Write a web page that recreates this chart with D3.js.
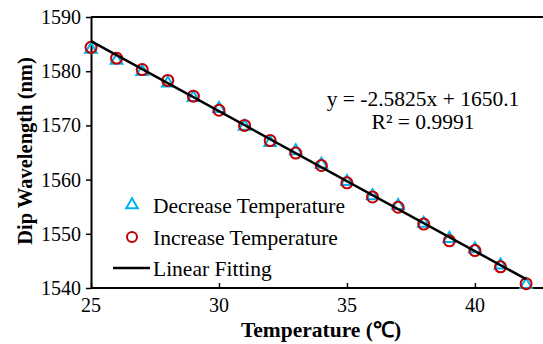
<!DOCTYPE html>
<html>
<head>
<meta charset="utf-8">
<script src="https://cdn.jsdelivr.net/npm/d3@7"></script>
<style>
body { margin: 0; background: #fff; }
svg text { font-family: "Liberation Serif", "Times New Roman", serif; fill: #000; }
</style>
</head>
<body>
<svg width="543" height="344"></svg>
<script>
var temps = [25, 26, 27, 28, 29, 30, 31, 32, 33, 34, 35, 36, 37, 38, 39, 40, 41, 42];
var decreaseVals = [1584.0, 1582.0, 1579.9, 1577.8, 1575.1, 1573.1, 1569.8, 1566.8, 1565.3, 1562.8, 1559.6, 1557.0, 1555.2, 1551.9, 1549.1, 1547.2, 1544.2, 1540.6];
var increaseVals = [1584.4, 1582.4, 1580.3, 1578.3, 1575.4, 1572.8, 1570.0, 1567.2, 1564.9, 1562.6, 1559.4, 1556.8, 1554.9, 1551.8, 1548.7, 1546.9, 1543.9, 1540.8];
var fitSlope = -2.5825;
var fitIntercept = 1650.1;
var xTicks = [25, 30, 35, 40];
var yTicks = [1540, 1550, 1560, 1570, 1580, 1590];
var legendLabels = ["Decrease Temperature", "Increase Temperature", "Linear Fitting"];

function init() {
    var svg = d3.select('svg');
    var margin = { left: 91, top: 17, right: 0, bottom: 56 };
    var width = +svg.attr('width');
    var height = +svg.attr('height');
    var x = d3.scaleLinear().domain([25, 42.66]).range([margin.left, width - margin.right]);
    var y = d3.scaleLinear().domain([1540, 1590]).range([height - margin.bottom, margin.top]);

    // top frame line
    svg.append('line')
        .attr('x1', margin.left).attr('x2', width)
        .attr('y1', y(1590)).attr('y2', y(1590))
        .attr('stroke', '#000').attr('stroke-width', 2);

    // axes
    var xAxis = svg.append('g')
        .attr('transform', 'translate(0,' + y(1540) + ')')
        .call(d3.axisTop(x).tickValues(xTicks).tickSize(5).tickFormat(''));
    xAxis.select('.domain').attr('stroke-width', 2).attr('d', 'M' + margin.left + ',0H' + width);
    xAxis.selectAll('.tick line').attr('stroke-width', 1.5);
    svg.selectAll('.xlab').data(xTicks).enter().append('text')
        .attr('class', 'xlab')
        .attr('x', function (d) { return x(d); })
        .attr('y', 312)
        .attr('text-anchor', 'middle')
        .style('font-size', '20px')
        .text(function (d) { return d; });

    var yAxis = svg.append('g')
        .attr('transform', 'translate(' + margin.left + ',0)')
        .call(d3.axisLeft(y).tickValues(yTicks).tickSize(5).tickSizeOuter(0).tickFormat(''));
    yAxis.select('.domain').attr('stroke-width', 2);
    yAxis.selectAll('.tick line').attr('stroke-width', 1.5);
    svg.selectAll('.ylab').data(yTicks).enter().append('text')
        .attr('class', 'ylab')
        .attr('x', 81)
        .attr('y', function (d) { return y(d) + 7; })
        .attr('text-anchor', 'end')
        .style('font-size', '20px')
        .text(function (d) { return d; });

    // axis titles
    svg.append('text')
        .attr('x', 321).attr('y', 337)
        .attr('text-anchor', 'middle')
        .style('font-size', '21.5px').style('font-weight', 'bold')
        .text('Temperature (\u2103)');
    svg.append('text')
        .attr('transform', 'translate(32,' + 151 + ') rotate(-90)')
        .attr('text-anchor', 'middle')
        .style('font-size', '20.5px').style('font-weight', 'bold')
        .text('Dip Wavelength (nm)');

    var tri = d3.symbol().type(d3.symbolTriangle).size(58);

    // decrease: triangles
    svg.selectAll('.dec').data(decreaseVals).enter().append('path')
        .attr('class', 'dec')
        .attr('d', tri)
        .attr('transform', function (d, i) { return 'translate(' + x(temps[i]) + ',' + y(d) + ')'; })
        .attr('fill', 'none').attr('stroke', '#00b0f0').attr('stroke-width', 2);

    // increase: circles
    svg.selectAll('.inc').data(increaseVals).enter().append('circle')
        .attr('class', 'inc')
        .attr('cx', function (d, i) { return x(temps[i]); })
        .attr('cy', function (d) { return y(d); })
        .attr('r', 5.5)
        .attr('fill', 'none').attr('stroke', '#c00000').attr('stroke-width', 2);

    // linear fit
    var fitX = [temps[0], temps[temps.length - 1]];
    svg.append('path')
        .datum(fitX)
        .attr('d', d3.line()
            .x(function (d) { return x(d); })
            .y(function (d) { return y(fitSlope * d + fitIntercept); }))
        .attr('stroke', '#000').attr('stroke-width', 2.5).attr('fill', 'none');

    // equation
    svg.append('text')
        .attr('x', 423).attr('y', 106)
        .attr('text-anchor', 'middle')
        .style('font-size', '21.5px')
        .text('y = ' + fitSlope + 'x + ' + fitIntercept);
    svg.append('text')
        .attr('x', 423).attr('y', 129)
        .attr('text-anchor', 'middle')
        .style('font-size', '21.5px')
        .text('R\u00b2 = 0.9991');

    // legend
    var lg = svg.append('g');
    lg.append('path').attr('d', tri)
        .attr('transform', 'translate(132,205)')
        .attr('fill', 'none').attr('stroke', '#00b0f0').attr('stroke-width', 2);
    lg.append('circle').attr('cx', 132).attr('cy', 237).attr('r', 5)
        .attr('fill', 'none').attr('stroke', '#c00000').attr('stroke-width', 2);
    lg.append('line').attr('x1', 113).attr('x2', 150).attr('y1', 268).attr('y2', 268)
        .attr('stroke', '#000').attr('stroke-width', 2.5);
    lg.selectAll('.lgt').data(legendLabels).enter().append('text')
        .attr('class', 'lgt')
        .attr('x', 153)
        .attr('y', function (d, i) { return 213 + i * 31.5; })
        .style('font-size', '21.5px')
        .text(function (d) { return d; });
}
init();
</script>
</body>
</html>
